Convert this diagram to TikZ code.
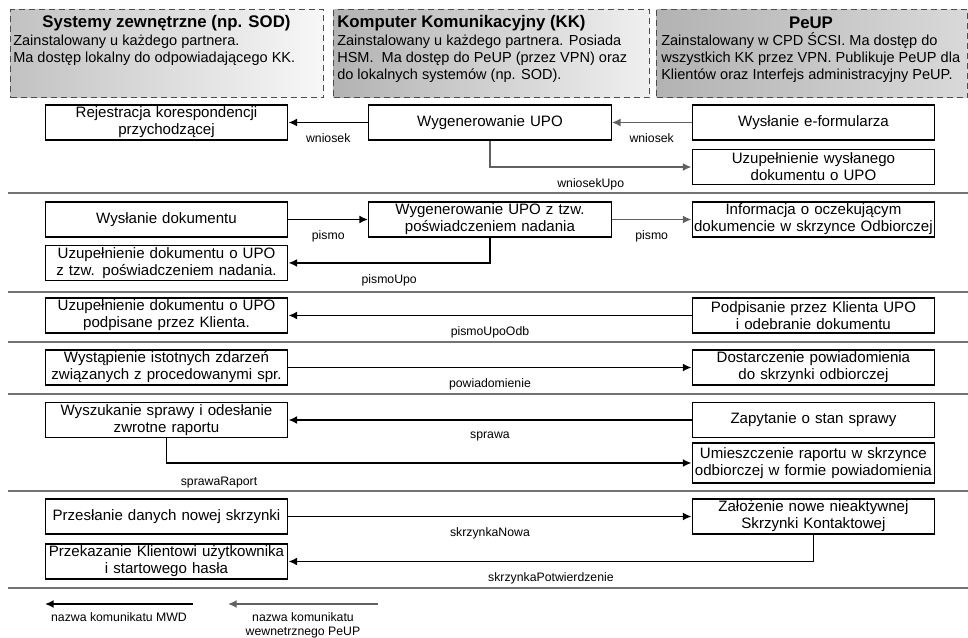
\documentclass[tikz,border=0pt]{standalone}
\usepackage{fontspec}
\setmainfont{Liberation Sans}
\usetikzlibrary{arrows.meta}
\newcommand{\boxfont}{\fontsize{11.3}{12.75}\selectfont}
\newcommand{\descfont}{\fontsize{10.9}{12.75}\selectfont}
\newcommand{\titlefont}{\fontsize{12.6}{14}\selectfont\bfseries}
\newcommand{\msgfont}{\fontsize{9.2}{10.5}\selectfont}
\tikzset{header/.style = {rectangle, draw=black!70, dash pattern=on 4.5pt off 3pt, line width=1pt,
		anchor=north west, minimum height=66pt, inner sep=0pt},
	title/.style    = {font=\titlefont, inner sep=0pt},
	desc/.style     = {font=\descfont, align=left, anchor=north west, inner sep=0pt},
	block/.style    = {rectangle, draw, line width=0.9pt, text width=180pt, align=center,
		minimum height=26.25pt, inner sep=1pt, font=\boxfont},
	line/.style     = {draw, -{Latex[length=6.5pt,width=6pt]}, line width=1.3pt},
	peup/.style     = {line, black!62},
	msg/.style      = {font=\msgfont, text=black, inner sep=1pt, align=center},
	divider/.style  = {draw=black!55, line width=1pt}
}
\begin{document}
\begin{tikzpicture}[x=0.75pt, y=-0.75pt, node distance=242.6pt]
		\useasboundingbox (0,0) rectangle (968,638);
		%% naglowki kolumn
		\node [header, left color=black!24, right color=black!3, minimum width=234.75pt] (hdrSys) at (10,9) {};
		\node [header, left color=black!30, right color=black!6, minimum width=237pt] (hdrKK) at (333,9) {};
		\node [header, left color=black!30, right color=black!15, minimum width=233.25pt] (hdrPeUP) at (656,9) {};
		\node [title] (titleSys) at (166.5,23) {Systemy zewnętrzne (np. SOD)};
		\node [title, anchor=west] (titleKK) at (337,23) {Komputer Komunikacyjny (KK)};
		\node [title] (titlePeUP) at (811,23) {PeUP};
		\node [desc] (descSys) at (13,35) {Zainstalowany u każdego partnera.\\Ma dostęp lokalny do odpowiadającego KK.};
		\node [desc] (descKK) at (337,35) {Zainstalowany u każdego partnera. Posiada\\HSM.\ \ Ma dostęp do PeUP (przez VPN) oraz\\do lokalnych systemów (np. SOD).};
		\node [desc] (descPeUP) at (661,32) {Zainstalowany w CPD ŚCSI. Ma dostęp do\\wszystkich KK przez VPN. Publikuje PeUP dla\\Klientów oraz Interfejs administracyjny PeUP.};
		%% wniosek
		\node [block] (rejestr) at (166.5,122.5) {Rejestracja korespondencji\\przychodzącej};
		\node [block, right of=rejestr] (genUpo) {Wygenerowanie UPO};
		\node [block, right of=genUpo] (eform) {Wysłanie e-formularza};
		\node [block, below of=eform, node distance=33.4pt] (uzupWysl) {Uzupełnienie wysłanego\\dokumentu o UPO};
		\path [peup] (eform) -- (genUpo) node[msg, midway, below=7pt]{wniosek};
		\path [line] (genUpo) -- (rejestr) node[msg, midway, below=7pt]{wniosek};
		\path [peup] (genUpo.south) |- (uzupWysl.west) node[msg, pos=0.75, below=7pt]{wniosekUpo};
		\draw [divider] (8,193) -- (968,193);
		%% pismo
		\node [block] (wyslDok) at (166.5,219.5) {Wysłanie dokumentu};
		\node [block, right of=wyslDok] (genPosw) {Wygenerowanie UPO z tzw.\\poświadczeniem nadania};
		\node [block, right of=genPosw] (infoOdb) {Informacja o oczekującym\\dokumencie w skrzynce Odbiorczej};
		\node [block, below of=wyslDok, node distance=32.6pt] (uzupPosw) {Uzupełnienie dokumentu o UPO\\z tzw. poświadczeniem nadania.};
		\path [line] (wyslDok) -- (genPosw) node[msg, midway, below=7pt]{pismo};
		\path [peup] (genPosw) -- (infoOdb) node[msg, midway, below=7pt]{pismo};
		\path [line] (genPosw.south) |- (uzupPosw.east) node[msg, pos=0.75, below=7pt]{pismoUpo};
		\draw [divider] (8,292) -- (968,292);
		%% odbior pisma
		\node [block] (uzupKlient) at (166.5,315.5) {Uzupełnienie dokumentu o UPO\\podpisane przez Klienta.};
		\node [block, right of=uzupKlient, node distance=485.2pt] (podpis) {Podpisanie przez Klienta UPO\\i odebranie dokumentu};
		\path [line] (podpis) -- (uzupKlient) node[msg, midway, below=7pt]{pismoUpoOdb};
		\draw [divider] (8,342) -- (968,342);
		%% powiadomienie
		\node [block] (zdarzenia) at (166.5,367.5) {Wystąpienie istotnych zdarzeń\\związanych z procedowanymi spr.};
		\node [block, right of=zdarzenia, node distance=485.2pt] (dostarcz) {Dostarczenie powiadomienia\\do skrzynki odbiorczej};
		\path [line] (zdarzenia) -- (dostarcz) node[msg, midway, below=7pt]{powiadomienie};
		\draw [divider] (8,394) -- (968,394);
		%% sprawa
		\node [block] (szukaj) at (166.5,420) {Wyszukanie sprawy i odesłanie\\zwrotne raportu};
		\node [block, right of=szukaj, node distance=485.2pt] (zapytanie) {Zapytanie o stan sprawy};
		\node [block, below of=zapytanie, node distance=32.25pt, minimum height=30pt] (raport) {Umieszczenie raportu w skrzynce\\odbiorczej w formie powiadomienia};
		\path [line] (zapytanie) -- (szukaj) node[msg, midway, below=7pt]{sprawa};
		\path [line] (szukaj.south) |- (raport.west) node[msg, pos=0.55, below=9pt]{sprawaRaport};
		\draw [divider] (8,491) -- (968,491);
		%% skrzynka
		\node [block] (przeslanie) at (166.5,516.5) {Przesłanie danych nowej skrzynki};
		\node [block, right of=przeslanie, node distance=485.2pt] (zalozenie) {Założenie nowe nieaktywnej\\Skrzynki Kontaktowej};
		\node [block, below of=przeslanie, node distance=33.75pt] (przekaz) {Przekazanie Klientowi użytkownika\\i startowego hasła};
		\path [line] (przeslanie) -- (zalozenie) node[msg, midway, below=7pt]{skrzynkaNowa};
		\path [line] (zalozenie.south) |- (przekaz.east) node[msg, pos=0.75, below=7pt]{skrzynkaPotwierdzenie};
		\draw [divider] (8,588) -- (968,588);
		%% legenda
		\coordinate (mwdStart) at (193,604);
		\coordinate (mwdEnd) at (45,604);
		\coordinate (peupStart) at (378,604);
		\coordinate (peupEnd) at (228,604);
		\path [line] (mwdStart) -- (mwdEnd) node[msg, midway, below=5pt]{nazwa komunikatu MWD};
		\path [peup] (peupStart) -- (peupEnd) node[msg, midway, below=5pt]{nazwa komunikatu\\wewnetrznego PeUP};
	\end{tikzpicture}
\end{document}
